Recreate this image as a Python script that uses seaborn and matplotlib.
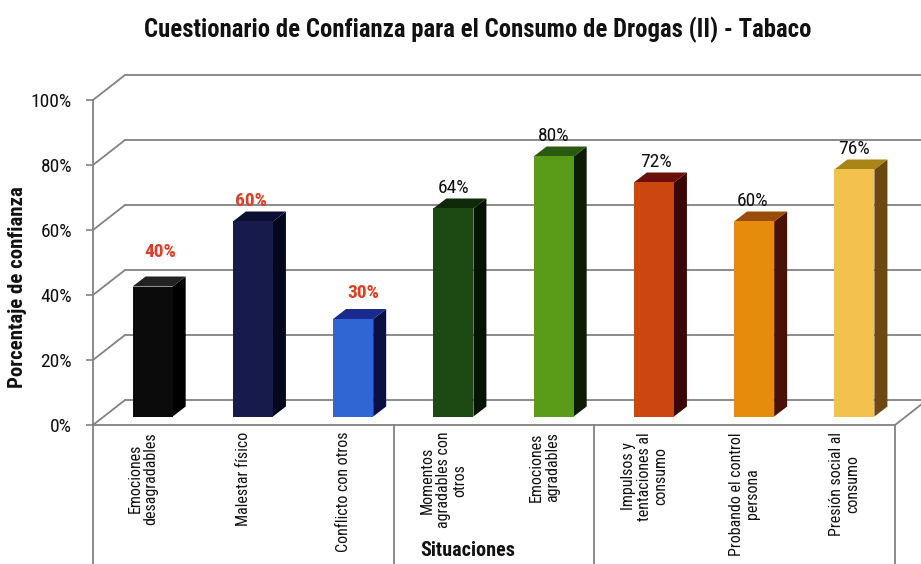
import matplotlib
matplotlib.use("Agg")
import matplotlib.pyplot as plt
from matplotlib.patches import Polygon
from matplotlib.transforms import blended_transform_factory
import seaborn as sns

# ---- data ----
categories = [
    "Emociones\ndesagradables",
    "Malestar físico",
    "Conflicto con otros",
    "Momentos\nagradables con\notros",
    "Emociones\nagradables",
    "Impulsos y\ntentaciones al\nconsumo",
    "Probando el control\npersona",
    "Presión social al\nconsumo",
]
values = [40, 60, 30, 64, 80, 72, 60, 76]
group_breaks = [3, 5]          # category groups split after these indices
y_ticks = [0, 20, 40, 60, 80, 100]
y_tick_labels = ["0%", "20%", "40%", "60%", "80%", "100%"]

title = "Cuestionario de Confianza para el Consumo de Drogas (II) - Tabaco"
y_label = "Porcentaje de confianza"
x_label = "Situaciones"

# ---- styling ----
front_colors = ["#0b0b0b", "#171b4c", "#3066d4", "#1d4a12",
                "#5a9c18", "#cc4610", "#e58c0c", "#f3c24e"]
side_colors = ["#000000", "#05071c", "#0a1040", "#061404",
               "#0d1c05", "#3a0606", "#4a1206", "#6a4a10"]
top_colors = ["#222222", "#0c0f34", "#1a2a8e", "#0e2a08",
              "#2a5a10", "#6a1008", "#9a4c0a", "#ab8418"]
label_colors = ["#d8402a"] * 3 + ["#111111"] * 5
label_weights = ["bold"] * 3 + ["normal"] * 5
label_nudge_px = [(8, 14), (-2, 0), (10, 5), (0, 0), (0, 0), (2, 0), (-2, 0), (0, 0)]

sns.set_theme(style="white")
plt.rcParams["font.family"] = ["Roboto Condensed", "DejaVu Sans"]

W, H = 921, 564
fig = plt.figure(figsize=(W / 100, H / 100), dpi=100)
fig.patch.set_facecolor("white")

# front plane of the 3D box, in pixels
x0_px, x1_px, y0_px, y100_px = 93, 895, 425, 100
ax = fig.add_axes([x0_px / W, (H - y0_px) / H,
                   (x1_px - x0_px) / W, (y0_px - y100_px) / H])
ax.set_facecolor("none")
ax.set_xlim(-0.5, len(categories) - 0.5)
ax.set_ylim(0, 100)

px_x = (x1_px - x0_px) / len(categories)   # pixels per category
px_y = (y0_px - y100_px) / 100.0           # pixels per percent

# wall depth (back wall offset) in data units
DX, DY = 32 / px_x, 25 / px_y
# bar placement inside the box and bar depth
BX, BY = 9.5 / px_x, 8.5 / px_y
BDX, BDY = 13 / px_x, 10 / px_y

grid_c = "#828282"
n = len(categories)
# back wall gridlines and left wall diagonals
for v in y_ticks:
    ax.plot([-0.5 + DX, n - 0.5 + DX + 1], [v + DY, v + DY], color=grid_c,
            lw=1.3, clip_on=False, zorder=0)
    ax.plot([-0.5, -0.5 + DX], [v, v + DY], color=grid_c, lw=1.3,
            clip_on=False, zorder=0)
# floor right edge
ax.plot([n - 0.5, n - 0.5 + DX], [0, DY], color=grid_c, lw=1.3,
        clip_on=False, zorder=0)

# bars (front faces)
sns.barplot(x=list(range(n)), y=values, hue=list(range(n)),
            palette=front_colors, width=0.4, saturation=1, legend=False,
            ax=ax, zorder=3, linewidth=0)
bars = list(ax.patches)
for i, p in enumerate(bars):
    p.set_x(p.get_x() + BX)
    p.set_y(BY)
    xl, xr = p.get_x(), p.get_x() + p.get_width()
    yb, yt = p.get_y(), p.get_y() + p.get_height()
    side = Polygon([(xr, yb), (xr + BDX, yb + BDY), (xr + BDX, yt + BDY), (xr, yt)],
                   closed=True, facecolor=side_colors[i], edgecolor="none", zorder=2)
    top = Polygon([(xl, yt), (xl + BDX, yt + BDY), (xr + BDX, yt + BDY), (xr, yt)],
                  closed=True, facecolor=top_colors[i], edgecolor="none", zorder=2)
    ax.add_patch(side)
    ax.add_patch(top)
    dxp, dyp = label_nudge_px[i]
    ax.annotate(f"{values[i]}%", xy=(p.get_x() + p.get_width() / 2, yt),
                xytext=(dxp, 20.5 + dyp), textcoords="offset pixels",
                ha="center", va="center", fontsize=14,
                color=label_colors[i], fontweight=label_weights[i], zorder=5)

# axes styling
for s in ["top", "right"]:
    ax.spines[s].set_visible(False)
for s in ["left", "bottom"]:
    ax.spines[s].set_color(grid_c)
    ax.spines[s].set_linewidth(1.3)
ax.set_xticks([])
ax.set_xlabel("")
ax.set_yticks(y_ticks)
ax.set_yticklabels(y_tick_labels, fontsize=14, color="#111111")
ax.tick_params(axis="y", length=5, width=1.2, color=grid_c, pad=10, left=True)
ax.grid(False)

# category table below the floor
tr = blended_transform_factory(ax.transData, fig.transFigure)
for xb in [-0.5] + [b - 0.5 for b in group_breaks] + [n - 0.5]:
    ax.plot([xb, xb], [0, (H - y0_px) / H], transform=tr, color=grid_c,
            lw=1.3, clip_on=False)
for i, c in enumerate(categories):
    ax.text(i, (H - 432) / H, c, transform=tr, rotation=90, ha="center",
            va="top", multialignment="center", fontsize=11.5,
            color="#111111", linespacing=1.1)

fig.text(468 / W, 1 - 551 / H, x_label, ha="center", va="center",
         fontsize=14.5, fontweight="bold", color="#111111")
fig.text(18 / W, 1 - 287 / H, y_label, ha="center", va="center", rotation=90,
         fontsize=15, fontweight="bold", color="#111111")
fig.text(478 / W, 1 - 30 / H, title, ha="center", va="center",
         fontsize=17.8, fontweight="bold", color="#111111")

fig.savefig("out.png", dpi=100)
